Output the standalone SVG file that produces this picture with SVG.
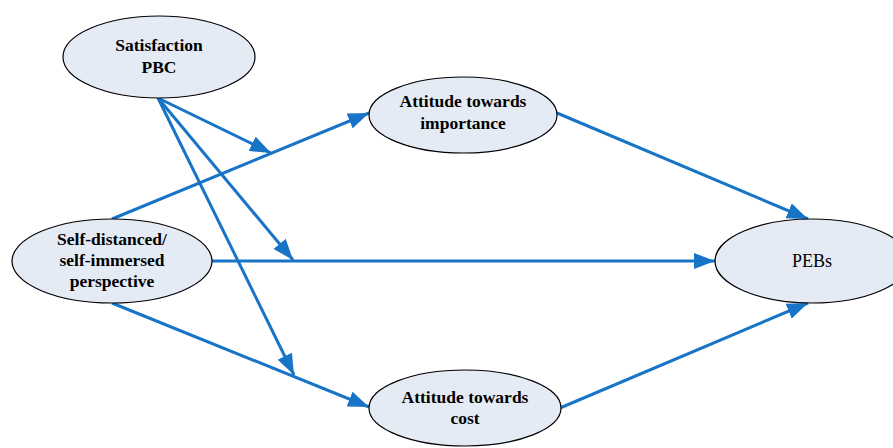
<svg xmlns="http://www.w3.org/2000/svg" width="893" height="448" viewBox="0 0 893 448">
<style>
.node ellipse{fill:#e4ebf5;stroke:#000;stroke-width:1.2}
.lbl{font-weight:bold;font-size:17.5px;text-anchor:middle;fill:#000}
.reg{font-size:18px;text-anchor:middle;fill:#000}
.edge{stroke:#1874c6;stroke-width:3;fill:none;marker-end:url(#ah)}
</style>
<defs>
<marker id="ah" markerUnits="userSpaceOnUse" markerWidth="22" markerHeight="16" viewBox="0 0 22 16" refX="21" refY="8" orient="auto">
<path d="M0,0 L21,8 L0,16 Z" fill="#1874c6"/>
</marker>
</defs>
<rect width="893" height="448" fill="#fff"/>
<g id="connectors">
<line class="edge" x1="158" y1="98" x2="271" y2="153"/>
<line class="edge" x1="158" y1="98" x2="293" y2="260"/>
<line class="edge" x1="158" y1="98" x2="294" y2="375"/>
<line class="edge" x1="112" y1="219" x2="369" y2="113"/>
<line class="edge" x1="212" y1="261" x2="715" y2="261"/>
<line class="edge" x1="112" y1="303" x2="369" y2="407"/>
<line class="edge" x1="557" y1="113" x2="808" y2="219"/>
<line class="edge" x1="560" y1="408" x2="808" y2="303"/>
</g>
<g font-family="'Liberation Serif', 'DejaVu Serif', serif">
<g id="satisfaction" class="node">
<ellipse cx="159" cy="57" rx="96" ry="41"/>
<text class="lbl" x="159" y="51">Satisfaction</text>
<text class="lbl" x="159" y="73">PBC</text>
</g>
<g id="perspective" class="node">
<ellipse cx="112" cy="261" rx="100" ry="42"/>
<text class="lbl" x="112" y="245">Self-distanced/</text>
<text class="lbl" x="112" y="266">self-immersed</text>
<text class="lbl" x="112" y="287">perspective</text>
</g>
<g id="importance" class="node">
<ellipse cx="463" cy="115" rx="94" ry="38"/>
<text class="lbl" x="463" y="107">Attitude towards</text>
<text class="lbl" x="463" y="129">importance</text>
</g>
<g id="cost" class="node">
<ellipse cx="465" cy="408" rx="96" ry="38"/>
<text class="lbl" x="465" y="403">Attitude towards</text>
<text class="lbl" x="465" y="424">cost</text>
</g>
<g id="pebs" class="node">
<ellipse cx="812" cy="261" rx="97" ry="42"/>
<text class="reg" x="812" y="267">PEBs</text>
</g>
</g>
</svg>
